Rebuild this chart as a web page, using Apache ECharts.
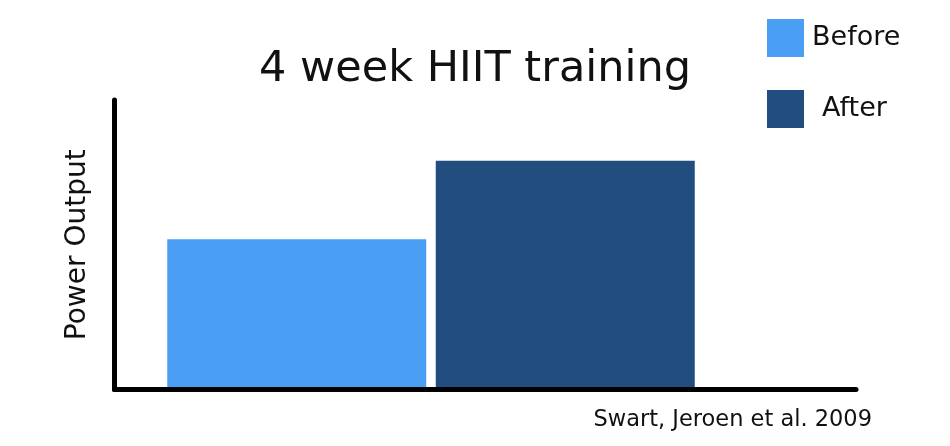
<!DOCTYPE html>
<html>
<head>
<meta charset="utf-8">
<script src="https://cdn.jsdelivr.net/npm/echarts@6/dist/echarts.min.js"></script>
<style>html,body{margin:0;padding:0;background:#fff}#c{width:950px;height:446px}</style>
</head>
<body>
<div id="c"></div>
<script>
var categories = ['Before', 'After'];
var seriesNames = ['Before', 'After'];
var beforeValues = [51.9, '-'];
var afterValues = ['-', 79.0];
var titleText = '4 week HIIT training';
var yAxisName = 'Power Output';
var sourceText = 'Swart, Jeroen et al. 2009';

var FONT = 'DejaVu Sans';
var chart = echarts.init(document.getElementById('c'), null, {renderer: 'canvas'});
var axisLine = {show: true, lineStyle: {color: '#000', width: 5, cap: 'round'}};
chart.setOption({
  backgroundColor: '#fff',
  animation: false,
  title: [
    {text: titleText, left: 'center', top: 43,
     textStyle: {fontFamily: FONT, fontSize: 43, fontWeight: 'normal', color: '#111'}},
    {text: sourceText, right: 73, top: 404,
     textStyle: {fontFamily: FONT, fontSize: 22.5, fontWeight: 'normal', color: '#111'}}
  ],
  legend: {
    orient: 'vertical', left: 762, top: 14, itemWidth: 37, itemHeight: 38, itemGap: 33,
    icon: 'rect', data: seriesNames,
    formatter: function (n) { return n === 'Before' ? '{b|' + n + '}' : '{a|' + n + '}'; },
    textStyle: {fontFamily: FONT, fontSize: 27, color: '#111',
      rich: {b: {fontFamily: FONT, fontSize: 27, color: '#111', padding: [0, 0, 0, 3]},
             a: {fontFamily: FONT, fontSize: 27, color: '#111', padding: [0, 0, 0, 13]}}}
  },
  grid: [
    {left: 114.5, right: 94, top: 100, bottom: 56.5},
    {left: 162.5, right: 250.5, top: 100, bottom: 56.5}
  ],
  xAxis: [
    {gridIndex: 0, type: 'value', min: 0, max: 1, z: 10, axisLine: axisLine,
     axisTick: {show: false}, axisLabel: {show: false}, splitLine: {show: false}},
    {gridIndex: 1, type: 'category', data: categories, show: false}
  ],
  yAxis: [
    {gridIndex: 0, type: 'value', min: 0, max: 1, z: 10, axisLine: axisLine,
     axisTick: {show: false}, axisLabel: {show: false}, splitLine: {show: false},
     name: yAxisName, nameLocation: 'middle', nameGap: 23,
     nameTextStyle: {fontFamily: FONT, fontSize: 28, color: '#111'}},
    {gridIndex: 1, type: 'value', min: 0, max: 100, show: false}
  ],
  series: [
    {name: seriesNames[0], type: 'bar', xAxisIndex: 1, yAxisIndex: 1, data: beforeValues,
     barWidth: 259, barGap: '-100%', itemStyle: {color: '#4a9ff5'}},
    {name: seriesNames[1], type: 'bar', xAxisIndex: 1, yAxisIndex: 1, data: afterValues,
     barWidth: 259, barGap: '-100%', itemStyle: {color: '#214e7e'}}
  ]
});
</script>
</body>
</html>
